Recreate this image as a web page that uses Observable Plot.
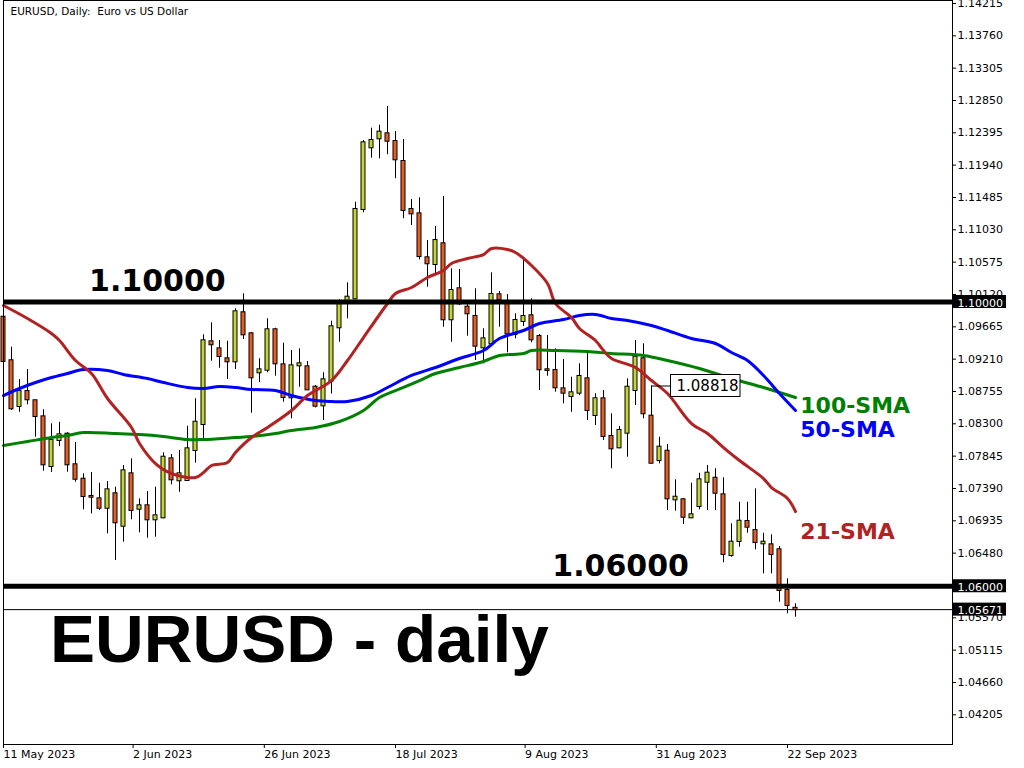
<!DOCTYPE html>
<html><head><meta charset="utf-8">
<script src="https://cdn.jsdelivr.net/npm/d3@7"></script>
<script src="https://cdn.jsdelivr.net/npm/@observablehq/plot@0.6"></script>
<style>html,body{margin:0;padding:0;background:#fff;} #chart svg{display:block}</style>
</head><body><div id="chart"></div>
<script>
// ---- data (bar index 0 = 11 May 2023, daily bars) ----
const opens = [1.09786,1.09173,1.08529,1.08740,1.08610,1.08384,1.07685,1.08051,1.08140,1.07709,
1.07506,1.07263,1.07230,1.07098,1.07301,1.06845,1.07582,1.07084,1.07132,1.06935,
1.06963,1.07793,1.07484,1.07488,1.07910,1.08276,1.09440,1.09341,1.09201,1.09158,
1.09848,1.09552,1.09004,1.09040,1.09609,1.09116,1.08652,1.09102,1.09088,1.08801,
1.08539,1.08885,1.09637,1.10011,1.10045,1.11302,1.12170,1.12297,1.12367,1.12259,
1.11977,1.11302,1.11241,1.10622,1.10528,1.10819,1.09750,1.10186,1.09927,1.09796,
1.09355,1.09412,1.10101,1.09975,1.09543,1.09726,1.09806,1.09514,1.09046,1.09036,
1.08778,1.08670,1.08717,1.08919,1.08403,1.08638,1.08107,1.07948,1.08154,1.08755,
1.09201,1.08393,1.07769,1.07900,1.07216,1.07216,1.06963,1.07122,1.07464,1.07520,
1.07287,1.06432,1.06630,1.06911,1.06784,1.06597,1.06583,1.06513,1.05940,1.05690];
const highs = [1.09824,1.09364,1.08909,1.09050,1.08620,1.08483,1.08286,1.08308,1.08160,1.08023,
1.07582,1.07601,1.07450,1.07474,1.07394,1.07699,1.07793,1.07230,1.07333,1.07394,
1.07878,1.07854,1.07910,1.08252,1.08638,1.09538,1.09707,1.09458,1.09448,1.09904,
1.10115,1.09570,1.09201,1.09764,1.09631,1.09420,1.09317,1.09341,1.09163,1.08825,
1.09004,1.09730,1.10031,1.10270,1.11404,1.12273,1.12446,1.12488,1.12751,1.12399,
1.12287,1.11442,1.11466,1.10865,1.11063,1.11485,1.10467,1.10457,1.10021,1.10186,
1.09623,1.10411,1.10148,1.10106,1.09834,1.10608,1.10045,1.09542,1.09529,1.09341,
1.09191,1.08942,1.09130,1.09294,1.08708,1.08755,1.08427,1.08248,1.08919,1.09458,
1.09412,1.08818,1.08097,1.07995,1.07498,1.07235,1.07450,1.07591,1.07699,1.07653,
1.07526,1.06879,1.07183,1.07183,1.07371,1.06746,1.06724,1.06559,1.06105,1.05753];
const lows = [1.09135,1.08473,1.08449,1.08553,1.08097,1.07619,1.07601,1.07966,1.07605,1.07464,
1.07076,1.07019,1.07066,1.06738,1.06362,1.06620,1.06935,1.06752,1.06676,1.06690,
1.06950,1.07427,1.07323,1.07480,1.07731,1.08065,1.09167,1.09068,1.08909,1.09050,
1.09472,1.08435,1.08867,1.09004,1.08956,1.08590,1.08356,1.08801,1.08755,1.08511,
1.08332,1.08705,1.09434,1.09764,1.10031,1.11255,1.12024,1.12015,1.12072,1.11734,
1.11171,1.11077,1.10594,1.10208,1.10373,1.09645,1.09434,1.09951,1.09519,1.09177,
1.09130,1.09400,1.09645,1.09285,1.09482,1.09655,1.09426,1.08755,1.08956,1.08731,
1.08567,1.08449,1.08684,1.08332,1.08262,1.08051,1.07653,1.07934,1.07816,1.08543,
1.08356,1.07723,1.07723,1.07066,1.07056,1.06869,1.06950,1.07076,1.07066,1.07066,
1.06330,1.06409,1.06549,1.06746,1.06513,1.06175,1.06175,1.05775,1.05612,1.05564];
const closes = [1.09163,1.08497,1.08740,1.08624,1.08389,1.07709,1.08051,1.08131,1.07709,1.07506,
1.07263,1.07253,1.07098,1.07357,1.06893,1.07624,1.07066,1.07132,1.06935,1.06991,
1.07816,1.07498,1.07582,1.07934,1.08308,1.09454,1.09398,1.09233,1.09158,1.09862,
1.09538,1.08933,1.09046,1.09609,1.09130,1.08656,1.09102,1.09130,1.08764,1.08534,
1.08905,1.09651,1.09986,1.10068,1.11302,1.12240,1.12273,1.12390,1.12263,1.12001,
1.11288,1.11241,1.10640,1.10538,1.10865,1.09750,1.10162,1.09975,1.09834,1.09378,
1.09482,1.10106,1.10035,1.09552,1.09740,1.09796,1.09468,1.09046,1.09036,1.08793,
1.08717,1.08722,1.08952,1.08473,1.08638,1.08107,1.07934,1.08192,1.08801,1.09223,
1.08427,1.07731,1.07957,1.07230,1.07253,1.06971,1.07005,1.07498,1.07591,1.07309,
1.06447,1.06620,1.06915,1.06831,1.06615,1.06620,1.06447,1.05940,1.05729,1.05671];

const sma21Bars = [0,3,6,7,9,11,13,16,17,19,21,24,25,26,28,29,31,33,36,38,41,43,45,48,49,51,53,55,56,58,60,61,63,64,66,68,69,71,72,74,75,76,79,81,83,86,88,90,92,95,96,98,99];
const sma21 = [1.09951,1.09768,1.09557,1.09458,1.09177,1.08994,1.08642,1.08234,1.08009,1.07727,1.07587,1.07530,1.07601,1.07699,1.07741,1.07882,1.08093,1.08234,1.08473,1.08684,1.08895,1.09177,1.09500,1.09979,1.10120,1.10204,1.10345,1.10443,1.10542,1.10612,1.10668,1.10753,1.10739,1.10697,1.10514,1.10260,1.09979,1.09782,1.09627,1.09458,1.09317,1.09205,1.09078,1.08895,1.08712,1.08290,1.08149,1.07952,1.07769,1.07516,1.07389,1.07235,1.07052];
const sma50Bars = [0,2,4,6,8,10,13,15,18,20,23,25,27,29,31,34,36,39,41,43,46,48,51,54,57,60,62,65,67,70,72,74,76,78,81,83,86,89,91,93,95,97,99];
const sma50 = [1.08684,1.08783,1.08867,1.08937,1.08994,1.09050,1.09036,1.08980,1.08923,1.08867,1.08797,1.08783,1.08811,1.08797,1.08769,1.08755,1.08684,1.08614,1.08600,1.08600,1.08684,1.08797,1.08966,1.09078,1.09205,1.09317,1.09486,1.09599,1.09697,1.09754,1.09810,1.09824,1.09768,1.09740,1.09669,1.09599,1.09486,1.09416,1.09289,1.09177,1.08966,1.08712,1.08473];
const sma100Bars = [0,3,6,8,10,14,17,20,23,25,29,31,34,36,39,42,45,47,50,52,54,57,60,62,65,66,69,73,76,80,83,87,91,95,97,99];
const sma100 = [1.07981,1.08037,1.08093,1.08121,1.08163,1.08149,1.08135,1.08107,1.08065,1.08065,1.08093,1.08107,1.08149,1.08192,1.08234,1.08318,1.08473,1.08656,1.08797,1.08895,1.08994,1.09078,1.09163,1.09247,1.09275,1.09317,1.09317,1.09303,1.09275,1.09247,1.09177,1.09064,1.08923,1.08797,1.08727,1.08656];

const priceTicks = [1.14215,1.13760,1.13305,1.12850,1.12395,1.11940,1.11485,1.11030,1.10575,1.10120,1.09665,1.09210,1.08755,1.08300,1.07845,1.07390,1.06935,1.06480,1.06025,1.05570,1.05115,1.04660,1.04205];
const dateLabels = ["11 May 2023","2 Jun 2023","26 Jun 2023","18 Jul 2023","9 Aug 2023","31 Aug 2023","22 Sep 2023"];
const dateTickBars = [0,16.2,32.6,49,65.2,81.6,98];
const levels = [1.10, 1.06];
const lastPrice = 1.05671;
const markedHighBar = 81;
const markedHigh = 1.08818;

// ---- build tables ----
const bull = "#C3D62E", bear = "#EE5A24";
const candles = opens.map((o, i) => ({i, o, h: highs[i], l: lows[i], c: closes[i]}));
const pts = (bars, vals) => bars.map((k, j) => ({k, v: vals[j]}));
const xDomain = [0, 118.625];
const yDomain = [1.03773, 1.14243];
const boxes = [...levels, lastPrice];

const chart = Plot.plot({
  width: 1024, height: 768,
  marginLeft: 3, marginRight: 72, marginTop: 0, marginBottom: 24,
  x: {type: "linear", domain: xDomain, axis: null},
  y: {type: "linear", domain: yDomain, axis: null},
  style: {fontFamily: "DejaVu Sans", fontSize: "11px", background: "white", color: "black", overflow: "visible"},
  marks: [
    Plot.axisY({anchor: "right", ticks: priceTicks, tickFormat: d => d.toFixed(5), tickSize: 3, tickPadding: 2, textAnchor: "start", fontSize: 11, dy: 1, stroke: "black"}),
    Plot.axisX({anchor: "bottom", ticks: dateTickBars, tickFormat: d => dateLabels[dateTickBars.indexOf(d)], tickSize: 4, tickPadding: 2, textAnchor: "start", fontSize: 11, stroke: "black"}),
    // candles
    Plot.ruleX(candles, {x: "i", y1: "l", y2: "h", stroke: "black", strokeWidth: 1}),
    Plot.rect(candles, {x1: "i", x2: "i", y1: "o", y2: "c", insetLeft: -2, insetRight: -2, insetTop: -0.5, insetBottom: -0.5,
      fill: d => d.c >= d.o ? bull : bear, stroke: "black", strokeWidth: 1}),
    // moving averages
    Plot.line(pts(sma100Bars, sma100), {x: "k", y: "v", stroke: "#008000", strokeWidth: 3, curve: "catmull-rom"}),
    Plot.line(pts(sma50Bars, sma50), {x: "k", y: "v", stroke: "#0000FF", strokeWidth: 3, curve: "catmull-rom"}),
    Plot.line(pts(sma21Bars, sma21), {x: "k", y: "v", stroke: "#B22222", strokeWidth: 3, curve: "catmull-rom"}),
    // levels
    Plot.ruleY(levels, {y: d => d, stroke: "black", strokeWidth: 5}),
    Plot.ruleY([lastPrice], {y: d => d, stroke: "black", strokeWidth: 1}),
    // marked high label
    Plot.ruleY([markedHigh], {x1: markedHighBar, x2: markedHighBar, y: d => d, insetRight: -19.5, stroke: "black", strokeWidth: 1}),
    Plot.rect([markedHigh], {x1: markedHighBar, x2: markedHighBar, y1: d => d, y2: d => d, insetLeft: 19.5, insetRight: -89, insetTop: -11, insetBottom: -11, fill: "white", stroke: "black", strokeWidth: 1}),
    Plot.text([markedHigh], {x: markedHighBar, y: d => d, text: d => d.toFixed(5), dx: 56, textAnchor: "middle", lineAnchor: "middle", fontSize: 15, fill: "black"}),
    // right axis boxes
    Plot.rect(boxes, {x1: xDomain[1], x2: xDomain[1], y1: d => d, y2: d => d, insetLeft: 1, insetRight: -54, insetTop: -6.5, insetBottom: -6.5, fill: "black"}),
    Plot.text(boxes, {x: xDomain[1], y: d => d, text: d => d.toFixed(5), dx: 5, dy: 1, textAnchor: "start", lineAnchor: "middle", fontSize: 11, fill: "white"}),
    // annotations
    Plot.text(["1.10000"], {x: 10.7, y: levels[0], dy: -11.5, textAnchor: "start", lineAnchor: "bottom", fontSize: 30, fontWeight: "bold", fontFamily: "DejaVu Sans", fill: "black"}),
    Plot.text(["1.06000"], {x: 68.6, y: levels[1], dy: -10.7, textAnchor: "start", lineAnchor: "bottom", fontSize: 30, fontWeight: "bold", fontFamily: "DejaVu Sans", fill: "black"}),
    Plot.text(["100-SMA"], {x: 99.6, y: 1.08445, textAnchor: "start", lineAnchor: "bottom", fontSize: 22, fontWeight: "bold", fill: "#008000"}),
    Plot.text(["50-SMA"], {x: 99.6, y: 1.08097, textAnchor: "start", lineAnchor: "bottom", fontSize: 22, fontWeight: "bold", fill: "#0000FF"}),
    Plot.text(["21-SMA"], {x: 99.6, y: 1.06658, textAnchor: "start", lineAnchor: "bottom", fontSize: 22, fontWeight: "bold", fill: "#B22222"}),
    Plot.text(["EURUSD - daily"], {x: 5.8, y: 1.04931, textAnchor: "start", lineAnchor: "bottom", fontSize: 67.5, fontWeight: "bold", fontFamily: "Liberation Sans, Arial, sans-serif", fill: "black"}),
    Plot.text(["EURUSD, Daily:\u00a0 Euro vs US Dollar"], {frameAnchor: "top-left", dx: 7, dy: 7, textAnchor: "start", lineAnchor: "top", fontSize: 10.5, fill: "black"}),
    Plot.frame({stroke: "black", strokeWidth: 1})
  ]
});
document.getElementById("chart").appendChild(chart);
</script>
</body></html>
